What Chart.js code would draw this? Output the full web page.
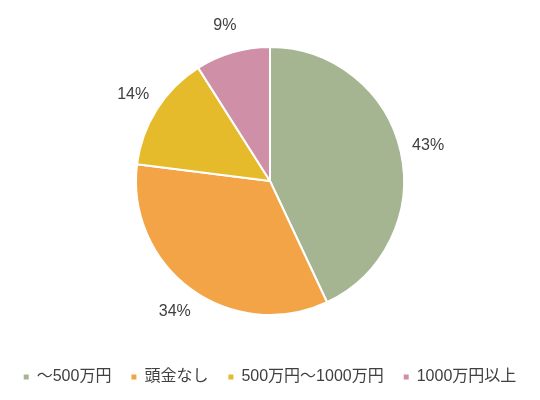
<!DOCTYPE html>
<html lang="ja">
<head>
<meta charset="UTF-8" />
<title>頭金の割合</title>
<script src="https://cdn.jsdelivr.net/npm/chart.js"></script>
<style>
  html, body { margin: 0; padding: 0; background: #fff; }
  #wrap { width: 540px; height: 400px; }
</style>
</head>
<body>
<div id="wrap"><canvas id="pieChart"></canvas></div>
<script>
const labels = ["～500万円", "頭金なし", "500万円～1000万円", "1000万円以上"];
const shares = [43, 34, 14, 9];
const colors = ["#a5b592", "#f3a446", "#e6bb2b", "#cf8fa7"];

const fontFamily = "'Liberation Sans', 'Noto Sans CJK JP', Arial, sans-serif";

// percent labels just outside each slice
const outsideLabels = {
  id: "outsideLabels",
  afterDatasetsDraw(chart) {
    const ctx = chart.ctx;
    const meta = chart.getDatasetMeta(0);
    ctx.save();
    ctx.font = "16px " + fontFamily;
    ctx.fillStyle = "#404040";
    ctx.textAlign = "center";
    ctx.textBaseline = "middle";
    meta.data.forEach((arc, i) => {
      const p = arc.getProps(["x", "y", "startAngle", "endAngle", "outerRadius"], true);
      const mid = (p.startAngle + p.endAngle) / 2;
      const r = p.outerRadius + 28;
      ctx.fillText(shares[i] + "%", p.x + Math.cos(mid) * r, p.y + Math.sin(mid) * r);
    });
    ctx.restore();
  }
};

new Chart(document.getElementById("pieChart"), {
  type: "pie",
  data: {
    labels: labels,
    datasets: [{
      data: shares,
      backgroundColor: colors,
      borderColor: "#fff",
      borderWidth: 2,
      radius: 134
    }]
  },
  options: {
    responsive: true,
    maintainAspectRatio: false,
    animation: false,
    layout: { padding: { top: 13, bottom: 5 } },
    plugins: {
      tooltip: { enabled: false },
      legend: {
        position: "bottom",
        maxHeight: 53,
        labels: {
          boxWidth: 5,
          boxHeight: 5,
          padding: 20,
          color: "#404040",
          font: { size: 16, family: fontFamily },
          generateLabels: chart =>
            Chart.overrides.pie.plugins.legend.labels.generateLabels(chart)
              .map(l => Object.assign(l, { lineWidth: 0 }))
        }
      }
    }
  },
  plugins: [outsideLabels]
});
</script>
</body>
</html>
